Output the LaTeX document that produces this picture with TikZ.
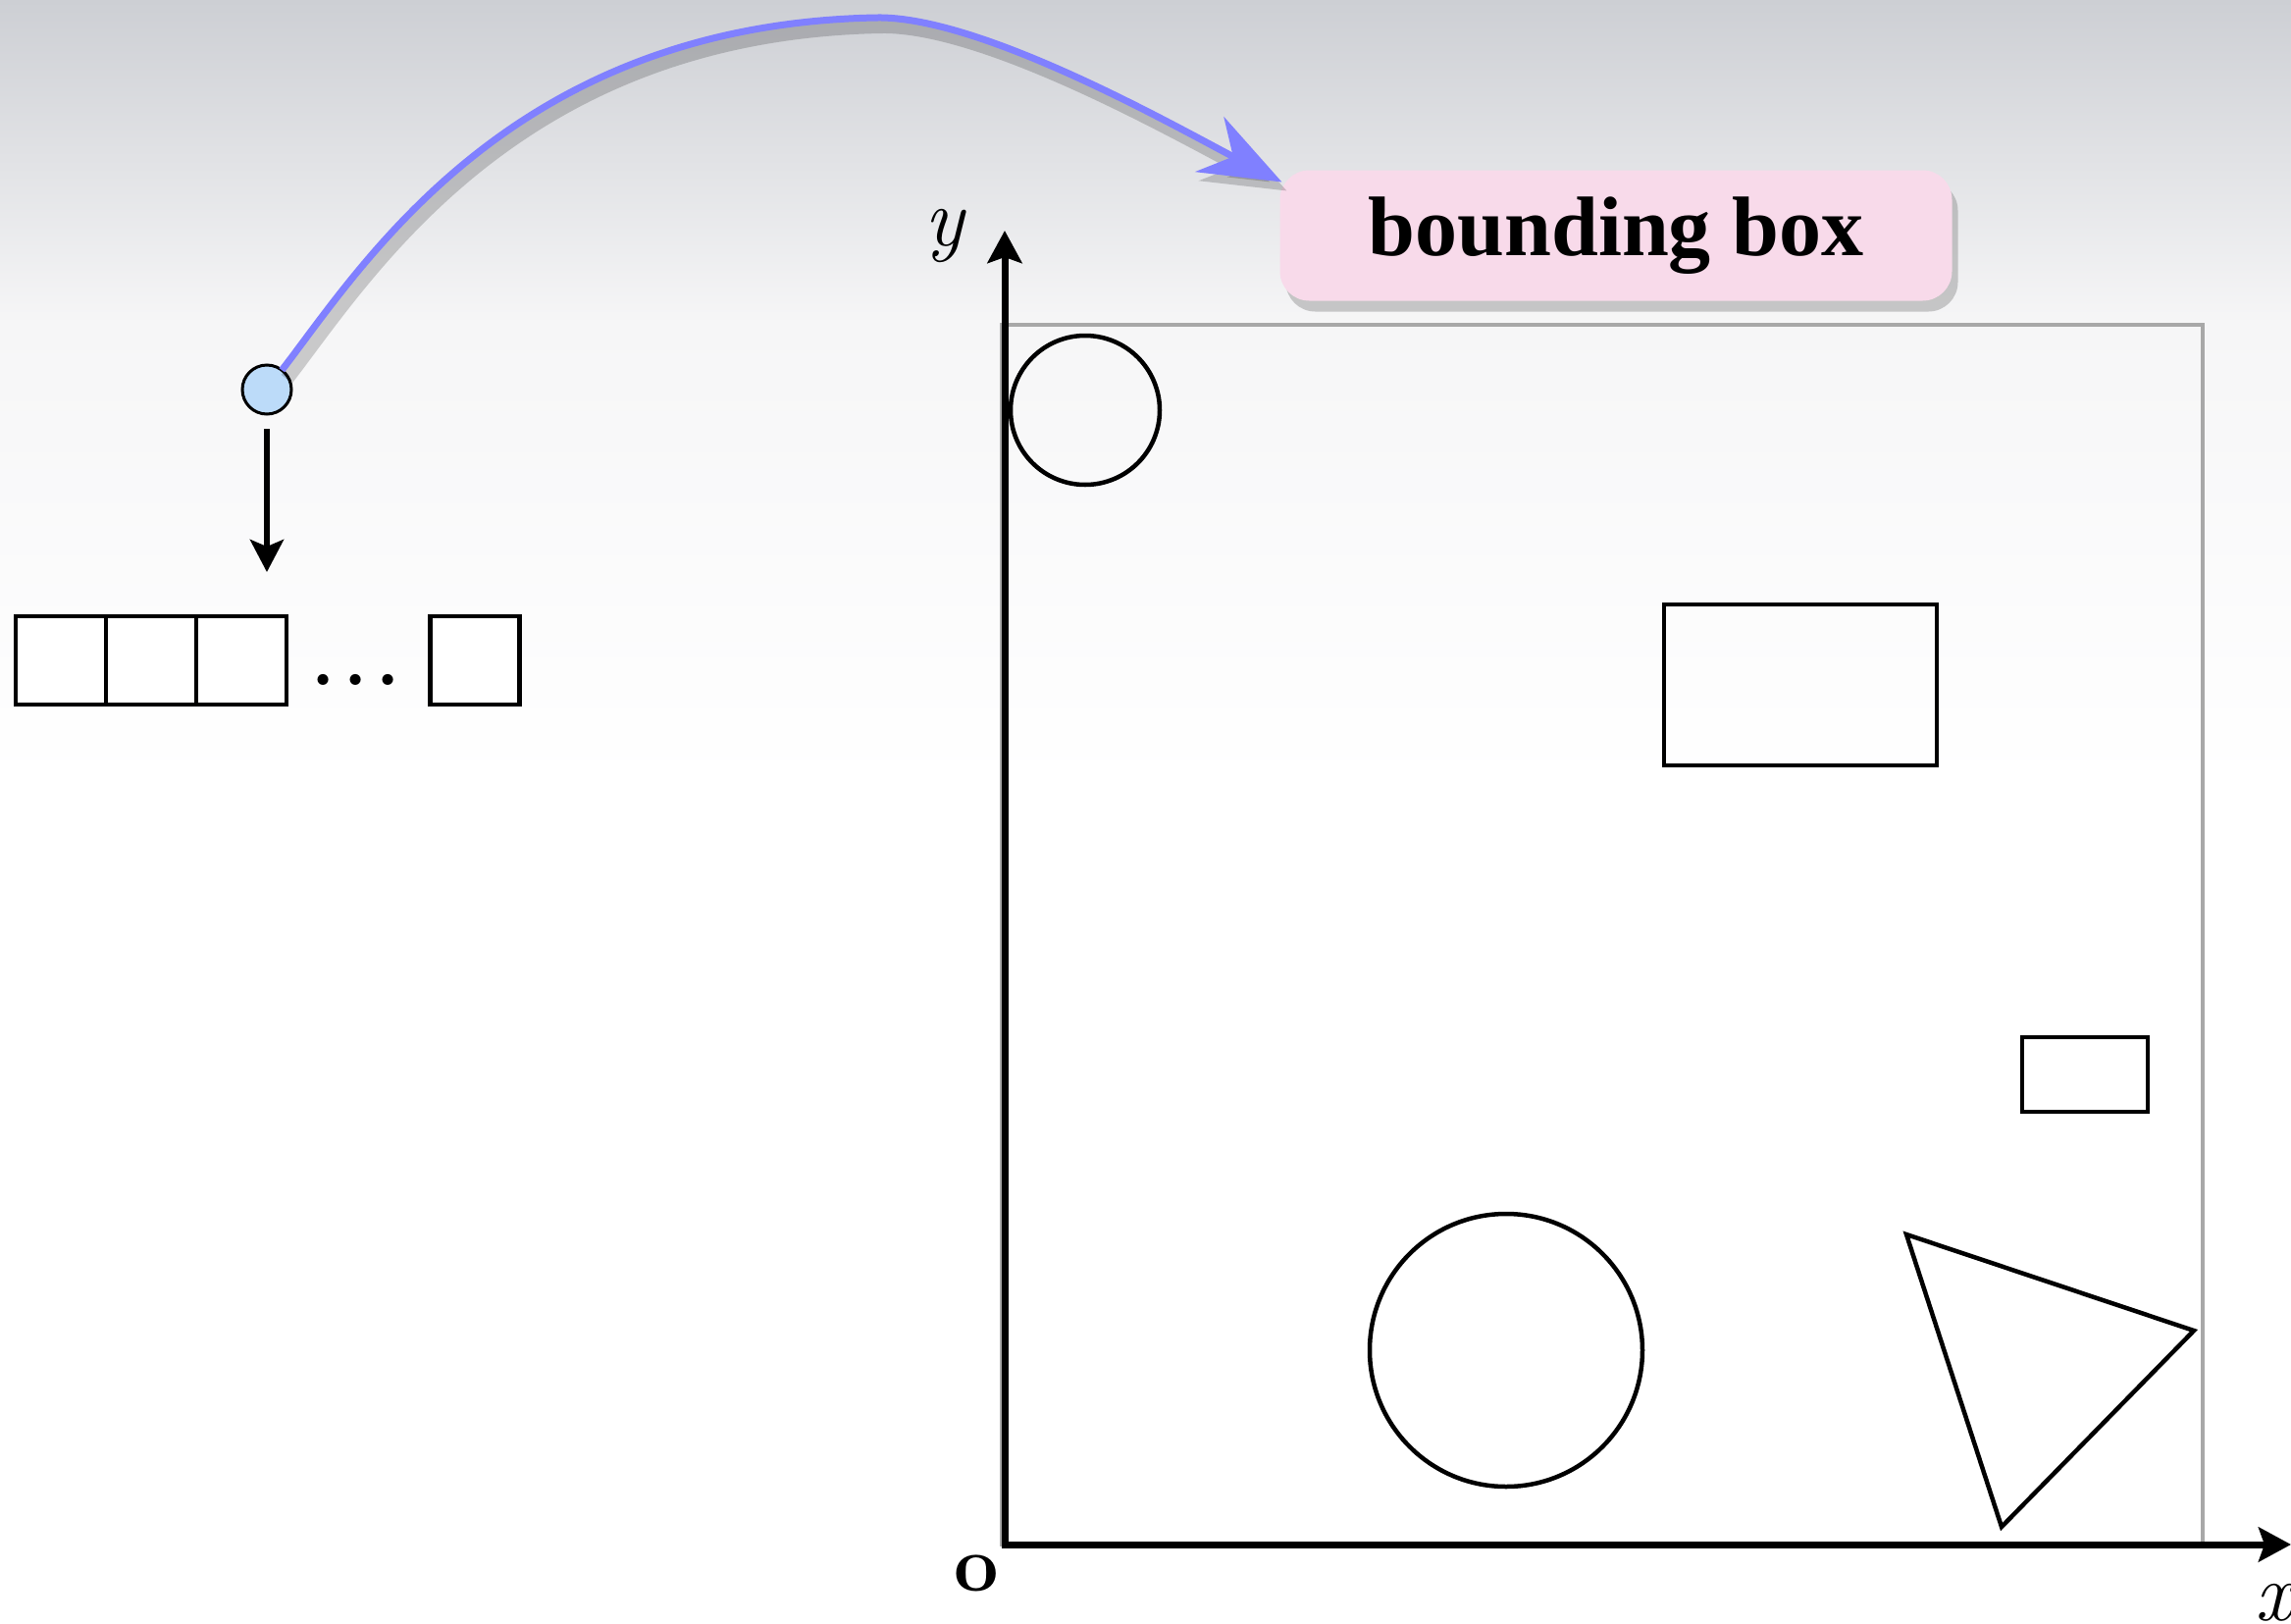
\documentclass[tikz,border=0pt]{standalone}
\usepackage{fontspec}
\newfontfamily\labelfont{Liberation Serif}
\usetikzlibrary{positioning,arrows.meta,shadows,calc}
\definecolor{bgtop}{RGB}{205,207,212}
\definecolor{bgmid}{RGB}{246,246,247}
\definecolor{curveblue}{RGB}{128,128,255}
\definecolor{labelpink}{RGB}{248,218,234}
\definecolor{elemblue}{RGB}{188,219,249}
\definecolor{boxgray}{RGB}{168,168,168}

\begin{document}
\begin{tikzpicture}[
x=0.1mm, y=-0.1mm,
every node/.style={
inner sep=0pt,
outer sep=0pt
},
cell/.style={
draw,
line width=0.45mm,
fill=white,
minimum width=9.2mm,
minimum height=9mm
},
shapeline/.style={
draw,
line width=0.45mm
},
arrow/.style={
-{Stealth[length=3.3mm, width=3.4mm, inset=0.7mm]},
line width=0.6mm
},
axis/.style={
{Stealth[length=3.3mm, width=3.5mm, inset=0.6mm]}-{Stealth[length=3.3mm, width=3.5mm, inset=0.6mm]},
line width=0.7mm
},
bboxlabel/.style={
fill=labelpink,
rounded corners=3mm,
minimum width=68.5mm,
minimum height=13.3mm,
font=\labelfont\bfseries\fontsize{24.5}{28}\selectfont,
drop shadow={opacity=0.4, shadow xshift=0.6mm, shadow yshift=-1.1mm}
},
curve/.style={
draw=curveblue,
line width=0.7mm,
-{Stealth[length=8.3mm, width=6.3mm, inset=2.7mm]},
preaction={draw=black, opacity=0.18, line width=1.4mm,
transform canvas={shift={(0.5mm,-0.9mm)}}}
}
]

\useasboundingbox (0,0) rectangle (2335,1655);
\shade[top color=bgtop, bottom color=bgmid] (0,0) rectangle (2335,330);
\shade[top color=bgmid, bottom color=white] (0,330) rectangle (2335,800);
\fill[white] (0,800) rectangle (2335,1655);

\node (elem) [circle, draw, line width=0.3mm, fill=elemblue, minimum size=5mm] at (272,397) {};

\node (cell1) [cell] at (62,673) {};
\node (cell2) [cell, right=0pt of cell1] {};
\node (cell3) [cell, right=0pt of cell2] {};
\node (dots) [anchor=base west] at (317,698) {\fontsize{22}{24}\selectfont\bfseries .\kern0.12em.\kern0.12em.};
\node (celln) [cell, minimum width=9.1mm] at (484,673) {};

\draw[arrow] ([yshift=-1.5mm]elem.south) -- ([yshift=4.5mm]elem.south |- cell3.north);

\draw[boxgray, line width=0.4mm] (1021,331) rectangle (2245,1574);

\node (circ1) [shapeline, circle, minimum size=15.2mm] at (1106,418) {};
\node (rect1) [shapeline, minimum width=27.8mm, minimum height=16.4mm] at (1835,698) {};
\node (rect2) [shapeline, minimum width=12.8mm, minimum height=7.6mm] at (2125,1095) {};
\node (circ2) [shapeline, circle, minimum size=27.8mm] at (1535,1376) {};
\draw[shapeline] (1943,1258) -- (2236,1356) -- (2040,1556) -- cycle;

\coordinate (origin) at (1024,1574);
\coordinate (yend) at (1024,235);
\coordinate (xend) at (2335,1574);
\draw[axis] (yend) -- (origin) -- (xend);

\node (ylabel) at (963,240) {\fontsize{24}{28}\selectfont\itshape y};
\node (xlabel) at (2317,1633) {\fontsize{24}{28}\selectfont\itshape x};
\node (olabel) at (995,1603) {\fontsize{23}{26}\selectfont\bfseries o};

\node (label) [bboxlabel] at (1647,240) {bounding box};
\coordinate (tip) at ($(label.north west)+(2,12)$);

\draw[curve] (elem) .. controls (370,270) and (520,25) .. (893,18)
.. controls (1000,16) and (1200,130) .. (tip);

\end{tikzpicture}
\end{document}
